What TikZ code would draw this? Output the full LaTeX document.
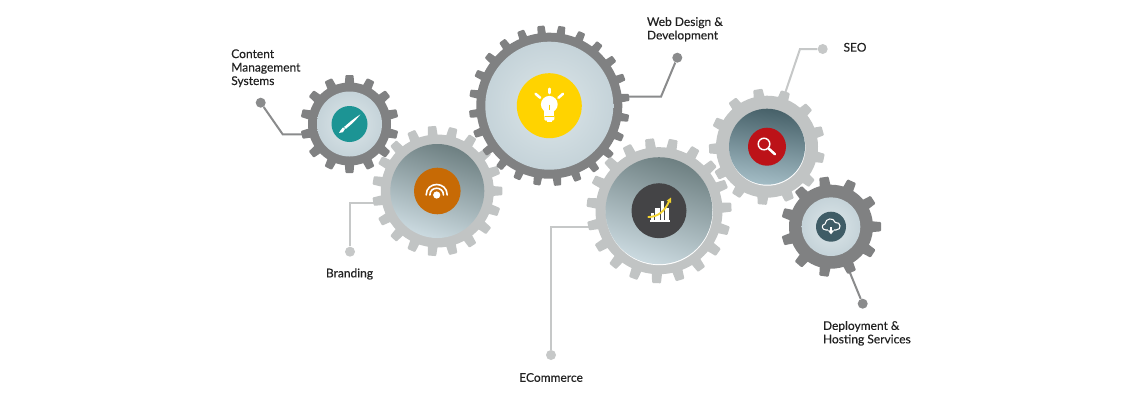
\documentclass[tikz,border=0pt]{standalone}
\usepackage{fontspec}
\setmainfont[FakeBold=0.3]{Lato}
\pgfdeclarelayer{bg}
\pgfsetlayers{bg,main}
\definecolor{geardark}{HTML}{808182}
\definecolor{gearlight}{HTML}{C1C4C4}
\definecolor{linedark}{HTML}{8A8B8C}
\definecolor{linelight}{HTML}{C6C8C8}
\definecolor{labelink}{HTML}{222222}
\definecolor{discpaleA}{HTML}{DCE6E9}
\definecolor{discpaleB}{HTML}{C5D3D9}
\definecolor{discmidtop}{HTML}{6E8082}
\definecolor{discmidbot}{HTML}{CBDAE0}
\definecolor{discdeeptop}{HTML}{476169}
\definecolor{discdeepbot}{HTML}{A3BCC5}
\definecolor{icoteal}{HTML}{1C9494}
\definecolor{icoorange}{HTML}{C76A05}
\definecolor{icoyellow}{HTML}{FFD300}
\definecolor{icocharcoal}{HTML}{444446}
\definecolor{icored}{HTML}{BC1218}
\definecolor{icoslate}{HTML}{3F5C66}
\definecolor{chartgold}{HTML}{F2D22E}
\newcommand{\gearwheel}[8]{%
  \fill[#8] (#1,#2) circle (#4);
  \foreach \k in {1,...,#6}{%
    \pgfmathsetmacro\toothang{#7+(\k-1)*360/#6}
    \fill[#8,rounded corners=.7pt,shift={(#1,#2)},rotate=\toothang]
      ({#4-2},{-#5/2}) -- (#3,{-#5*.42}) -- (#3,{#5*.42}) -- ({#4-2},{#5/2}) -- cycle;
  }%
}
\tikzset{
  x=.75pt,y=-.75pt,
  disc/.style={circle,inner sep=0pt,minimum size=#1*1.5pt},
  palefill/.style={inner color=discpaleA,outer color=discpaleB},
  midfill/.style={top color=discmidtop,bottom color=discmidbot,shading angle=-18},
  deepfill/.style={top color=discdeeptop,bottom color=discdeepbot,shading angle=-8},
  dotdark/.style={circle,inner sep=0pt,minimum size=7.5pt,fill=linedark},
  dotlight/.style={circle,inner sep=0pt,minimum size=7.5pt,fill=linelight},
  wiredark/.style={draw=linedark,line width=1.5pt},
  wirelight/.style={draw=linelight,line width=1.5pt},
  label/.style={anchor=west,align=left,inner sep=0pt,text=labelink,font=\fontsize{9}{10.1}\selectfont},
  whiteline/.style={draw=white,line width=#1,line cap=round},
}
\begin{document}
\begin{tikzpicture}
\useasboundingbox (0,0) rectangle (1140,400);
% gears
\gearwheel{349.5}{124}{49}{41.5}{9.5}{14}{90}{geardark}
\node[disc=32.5,palefill] (g1) at (349.5,124) {};
\node[disc=18,fill=icoteal] (i1) at (349.5,124) {};

\gearwheel{437.3}{191}{65}{56.5}{10}{19}{0}{gearlight}
\node[disc=47,midfill] (g2) at (437.3,191) {};
\node[disc=23.3,fill=icoorange] (i2) at (437.3,191) {};

\gearwheel{549.3}{105.7}{80.3}{73}{8.5}{24}{6}{geardark}
\node[disc=64,palefill] (g3) at (549.3,105.7) {};
\node[disc=32.5,fill=icoyellow] (i3) at (549.3,105.7) {};

\gearwheel{659}{210.7}{72.5}{63.5}{10.5}{19}{2.8}{gearlight}
\fill[white] (659.4,211.7) circle (53.5);
\node[disc=53.5,midfill] (g4) at (659,210.7) {};
\node[disc=27.5,fill=icocharcoal] (i4) at (659,210.7) {};

\gearwheel{767}{146.7}{58}{51}{11}{13}{16}{gearlight}
\fill[white] (767.4,147.7) circle (38);
\node[disc=38,deepfill] (g5) at (767,146.7) {};
\node[disc=19,fill=icored] (i5) at (767,146.7) {};

\gearwheel{831}{226.7}{50}{42}{11}{11}{0}{geardark}
\node[disc=29.3,palefill] (g6) at (831,226.7) {};
\node[disc=15,fill=icoslate] (i6) at (831,226.7) {};

% connectors, behind the gears
\node[dotdark] (d1) at (260.7,102.7) {};
\node[dotlight] (d2) at (350,251.7) {};
\node[dotdark] (d3) at (677.3,57.7) {};
\node[dotlight] (d4) at (551,355) {};
\node[dotlight] (d5) at (822.7,49) {};
\node[dotdark] (d6) at (862.7,303.7) {};
\coordinate (b1) at (282.7,134.3);
\coordinate (b2) at (350,202.7);
\coordinate (b3) at (661,96.7);
\coordinate (b4) at (551,226.5);
\coordinate (b5) at (800,49);
\begin{pgfonlayer}{bg}
\fill[white] (0,0) rectangle (1140,400);
\draw[wiredark] (d1) -- (b1) -- (b1 -| g1);
\draw[wirelight] (d2) -- (b2) -- (b2 -| g2);
\draw[wiredark] (d3) -- (b3) -- (b3 -| g3);
\draw[wirelight] (d4) -- (b4) -- (b4 -| g4);
\draw[wirelight] (d5) -- (b5) -- (g5);
\draw[wiredark] (d6) -- (g6);
\end{pgfonlayer}

% brush icon
\fill[white] (360.4,114.4) .. controls (356,120) and (351,125) .. (346.2,128.4)
  -- (344.6,126.6) .. controls (349,122.5) and (354.5,118) .. (360.4,114.4) -- cycle;
\fill[white] (345.8,128.9) -- (344.2,127) -- (345.5,125.8) -- (347.2,127.6) -- cycle;
\fill[white] (344.9,129) .. controls (344.6,131.5) and (342,133.6) .. (339,133)
  .. controls (340.6,131.8) and (340.2,129.2) .. (342.8,127.5)
  .. controls (343.8,127.2) and (344.8,127.9) .. (344.9,129) -- cycle;

% signal icon
\fill[white] (436.7,195) circle (3.6);
\draw[whiteline=1.2pt] (426.2,195) .. controls (426.2,181) and (447.2,181) .. (447.2,195);
\draw[whiteline=1.2pt] (429.9,195) .. controls (429.9,186) and (443.5,186) .. (443.5,195);

% bulb icon
\fill[white] (549.3,104.3) circle (8.4);
\fill[white] (544.2,108) rectangle (554.4,116);
\fill[white,rounded corners=.8pt] (544.3,115.5) rectangle (554.3,120.5);
\fill[white] (546.5,120) rectangle (552.1,122.2);
\draw[icoyellow,line width=.45pt] (544.5,116.4) -- (554,116.4);
\draw[icoyellow,line width=.6pt] (549.3,104.5) -- (549.3,110);
\draw[whiteline=1.9pt] (549.3,88.8) -- (549.3,93);
\draw[whiteline=1.9pt] (535.6,93.8) -- (540.2,97.8);
\draw[whiteline=1.9pt] (563,93.8) -- (558.4,97.8);

% chart icon
\fill[white] (650.5,213) rectangle (654.3,219.5);
\fill[white] (655.3,208) rectangle (659.7,219.5);
\fill[white] (660.7,200.7) rectangle (664.3,219.5);
\fill[white] (665.3,208) rectangle (669,219.5);
\fill[white] (650,220.4) rectangle (669.5,222);
\draw[chartgold,line width=1.4pt,line cap=round] (648.3,217) .. controls (658,217) and (665,211) .. (669.2,201);
\fill[chartgold] (671,197.5) -- (671,203) -- (666.7,200.7) -- cycle;

% magnifier icon
\draw[white,line width=1.1pt] (764,144) circle (5.8);
\draw[whiteline=1.9pt] (768.6,148.5) -- (775,154.3);

% cloud icon
\draw[white,line width=.8pt,line join=round] (826,230)
  .. controls (821.5,230) and (821,224.5) .. (825,224)
  .. controls (825.5,218) and (833.5,217) .. (835.3,222.5)
  .. controls (841,221.5) and (842,230) .. (836,230) -- cycle;
\fill[icoslate] (828,228) rectangle (834,231);
\fill[white] (830.2,226.5) rectangle (831.8,231);
\fill[white] (827.8,230.4) -- (834.2,230.4) -- (831,234.3) -- cycle;

% labels
\node[label] (t1) at (231,68.2) {Content\\Management\\Systems};
\node[label] (t2) at (646.7,29.3) {Web Design \&\\Development};
\node[label] (t3) at (843.3,47.3) {SEO};
\node[label] (t4) at (325.7,274) {Branding};
\node[label] (t5) at (519,377.5) {ECommerce};
\node[label] (t6) at (822.7,333.3) {Deployment \&\\Hosting Services};
\end{tikzpicture}
\end{document}
